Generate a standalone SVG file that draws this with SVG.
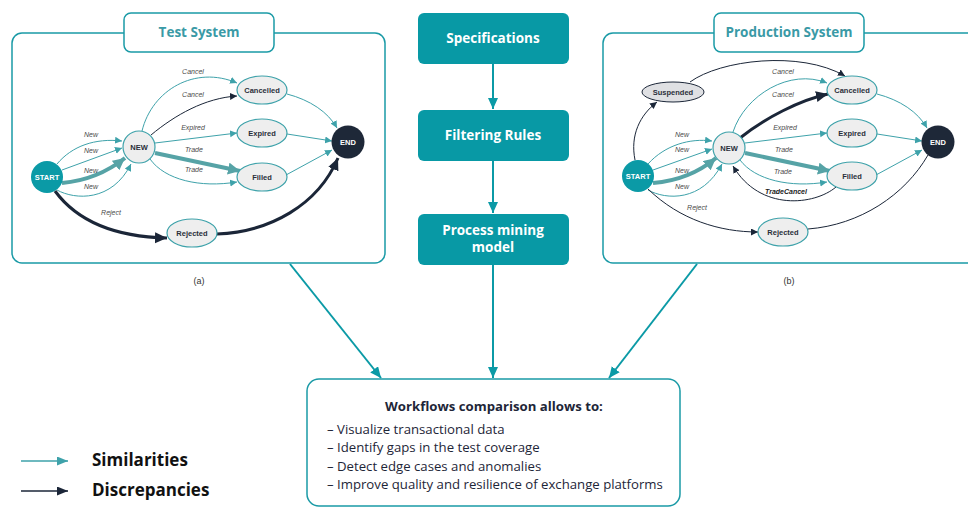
<svg xmlns="http://www.w3.org/2000/svg" width="968" height="507" viewBox="0 0 968 507">
<defs>
<style>
.panel{fill:#fff;stroke:#1a9aa6;stroke-width:1.5}
.ttl{font-family:"Open Sans","Liberation Sans",sans-serif;font-weight:bold;font-size:13.5px;fill:#3a9aa6;text-anchor:middle}
.cbox{fill:#0899a5}
.ctxt{font-family:"Open Sans","Liberation Sans",sans-serif;font-weight:bold;font-size:13.5px;fill:#fff;text-anchor:middle}
.st{fill:#eeeeee;stroke:#3ea2aa;stroke-width:1.2}
.nl{font-family:"Liberation Sans",Arial,sans-serif;font-weight:bold;font-size:7.5px;fill:#2a2f3a;text-anchor:middle}
.nlw{font-family:"Liberation Sans",Arial,sans-serif;font-weight:bold;font-size:7.5px;fill:#fff;text-anchor:middle}
.el{font-family:"Liberation Sans",Arial,sans-serif;font-style:italic;font-size:7px;fill:#4a4a4a;text-anchor:middle}
.elb{font-family:"Liberation Sans",Arial,sans-serif;font-style:italic;font-weight:bold;font-size:7px;fill:#222;text-anchor:middle}
.t{fill:none;stroke:#3ea2aa;stroke-width:1}
.tk{fill:none;stroke:#56a3a6;stroke-width:4}
.n{fill:none;stroke:#1b2638;stroke-width:1}
.nk{fill:none;stroke:#1b2638;stroke-width:3}
.big{fill:none;stroke:#0b9aa6;stroke-width:2}
.cap{font-family:"Liberation Sans",Arial,sans-serif;font-size:9px;fill:#333;text-anchor:middle}
.body{font-family:"Open Sans","Liberation Sans",sans-serif;font-size:13.2px;fill:#1e2638}
.leg{font-family:"Open Sans","Liberation Sans",sans-serif;font-weight:bold;font-size:17px;fill:#111}
</style>
<marker id="aT" markerUnits="userSpaceOnUse" markerWidth="8" markerHeight="8" refX="7" refY="3.5" orient="auto"><path d="M0,0 L7,3.5 L0,7 z" fill="#3ea2aa"/></marker>
<marker id="aTK" markerUnits="userSpaceOnUse" markerWidth="14" markerHeight="14" refX="12" refY="6" orient="auto"><path d="M0,0 L12,6 L0,12 z" fill="#56a3a6"/></marker>
<marker id="aN" markerUnits="userSpaceOnUse" markerWidth="8" markerHeight="8" refX="7" refY="3.5" orient="auto"><path d="M0,0 L7,3.5 L0,7 z" fill="#1b2638"/></marker>
<marker id="aNK" markerUnits="userSpaceOnUse" markerWidth="14" markerHeight="14" refX="12" refY="5.5" orient="auto"><path d="M0,0 L12,5.5 L0,11 z" fill="#1b2638"/></marker>
<marker id="aB" markerUnits="userSpaceOnUse" markerWidth="12" markerHeight="12" refX="11" refY="5" orient="auto"><path d="M0,0 L11,5 L0,10 z" fill="#0b9aa6"/></marker>
<marker id="aLT" markerUnits="userSpaceOnUse" markerWidth="12" markerHeight="10" refX="11" refY="4.5" orient="auto"><path d="M0,0 L11,4.5 L0,9 z" fill="#3ea2aa"/></marker>
<marker id="aLN" markerUnits="userSpaceOnUse" markerWidth="12" markerHeight="10" refX="11" refY="4.5" orient="auto"><path d="M0,0 L11,4.5 L0,9 z" fill="#1b2638"/></marker>
</defs>

<!-- Panels -->
<g id="test-system">
<rect class="panel" x="12" y="33" width="373" height="230" rx="10"/>
<rect class="panel" x="124" y="13" width="150" height="39" rx="7"/>
<text class="ttl" x="199" y="37">Test System</text>
<text class="cap" x="199" y="284">(a)</text>
</g>
<g id="production-system">
<rect class="panel" x="603" y="33" width="380" height="230" rx="10"/>
<rect class="panel" x="714" y="13" width="150" height="39" rx="7"/>
<text class="ttl" x="789" y="37">Production System</text>
<text class="cap" x="789" y="284">(b)</text>
</g>

<!-- Center column -->
<g id="specifications"><rect class="cbox" x="418" y="13" width="151" height="51" rx="6"/><text class="ctxt" x="493" y="43">Specifications</text></g>
<g id="filtering-rules"><rect class="cbox" x="418" y="110" width="151" height="51" rx="6"/><text class="ctxt" x="493" y="140">Filtering Rules</text></g>
<g id="process-mining-model"><rect class="cbox" x="418" y="214" width="151" height="51" rx="6"/><text class="ctxt" x="493" y="235">Process mining</text><text class="ctxt" x="493" y="252">model</text></g>

<g id="comparison">
<rect class="panel" x="307" y="379" width="373" height="127" rx="12"/>
<text class="body" x="494" y="411" text-anchor="middle" font-weight="bold" font-size="13px">Workflows comparison allows to:</text>
<text class="body" x="327" y="434">– Visualize transactional data</text>
<text class="body" x="327" y="452">– Identify gaps in the test coverage</text>
<text class="body" x="327" y="471">– Detect edge cases and anomalies</text>
<text class="body" x="327" y="489">– Improve quality and resilience of exchange platforms</text>
</g>

<g id="legend">
<line x1="21" y1="461" x2="68" y2="461" stroke="#3ea2aa" stroke-width="1.3" marker-end="url(#aLT)"/>
<text class="leg" x="92" y="466">Similarities</text>
<line x1="21" y1="491" x2="68" y2="491" stroke="#1b2638" stroke-width="1.3" marker-end="url(#aLN)"/>
<text class="leg" x="92" y="496">Discrepancies</text>
</g>

<!-- Main connectors -->
<g id="main-connectors">
<path class="big" d="M493,64 L493,109" marker-end="url(#aB)"/>
<path class="big" d="M493,161 L493,213" marker-end="url(#aB)"/>
<path class="big" d="M493,265 L493,378" marker-end="url(#aB)"/>
<path class="big" d="M290,264 L381,378" marker-end="url(#aB)"/>
<path class="big" d="M697,264 L609,378" marker-end="url(#aB)"/>
</g>

<!-- Left graph connectors -->
<g id="test-connectors">
<path class="t" d="M57,164 C72,146 95,138 122,141" marker-end="url(#aT)"/>
<path class="t" d="M62,170 L122,148" marker-end="url(#aT)"/>
<path class="tk" d="M62,183 C85,181 106,173 125,158" marker-end="url(#aTK)"/>
<path class="t" d="M57,190 C75,200 112,202 131,164" marker-end="url(#aT)"/>
<path class="t" d="M142,131 C152,90 195,65 237,83" marker-end="url(#aT)"/>
<path class="n" d="M151,135 C175,115 205,98 237,96" marker-end="url(#aN)"/>
<path class="t" d="M155,143 L237,133" marker-end="url(#aT)"/>
<path class="tk" d="M155,153 L240,171" marker-end="url(#aTK)"/>
<path class="t" d="M150,159 C165,180 200,188 237,182" marker-end="url(#aT)"/>
<path class="t" d="M287,94 C310,100 328,112 337,128" marker-end="url(#aT)"/>
<path class="t" d="M287,134 L332,141" marker-end="url(#aT)"/>
<path class="t" d="M286,175 L332,150" marker-end="url(#aT)"/>
<path class="nk" d="M55,191 C80,225 120,237 167,238" marker-end="url(#aNK)"/>
<path class="nk" d="M217,234 C270,232 318,205 338,158" marker-end="url(#aNK)"/>
<text class="el" x="91" y="137">New</text>
<text class="el" x="91" y="153">New</text>
<text class="el" x="91" y="173">New</text>
<text class="el" x="91" y="189">New</text>
<text class="el" x="193" y="74">Cancel</text>
<text class="el" x="193" y="97">Cancel</text>
<text class="el" x="193" y="130">Expired</text>
<text class="el" x="194" y="152">Trade</text>
<text class="el" x="194" y="172">Trade</text>
<text class="el" x="111" y="215">Reject</text>
</g>

<!-- Left graph nodes -->
<g id="t-start"><circle cx="47" cy="177" r="16" fill="#0b9aa6"/><text class="nlw" x="47" y="180">START</text></g>
<g id="t-new"><circle class="st" cx="139" cy="147" r="16"/><text class="nl" x="139" y="150">NEW</text></g>
<g id="t-cancelled"><ellipse class="st" cx="262" cy="90" rx="25" ry="14"/><text class="nl" x="262" y="93">Cancelled</text></g>
<g id="t-expired"><ellipse class="st" cx="262" cy="133" rx="25" ry="14"/><text class="nl" x="262" y="136">Expired</text></g>
<g id="t-filled"><ellipse class="st" cx="262" cy="177" rx="25" ry="14"/><text class="nl" x="262" y="180">Filled</text></g>
<g id="t-rejected"><ellipse class="st" cx="192" cy="233" rx="25" ry="14"/><text class="nl" x="192" y="236">Rejected</text></g>
<g id="t-end"><circle cx="348" cy="142" r="16.5" fill="#1e2838"/><text class="nlw" x="348" y="145">END</text></g>

<!-- Right graph connectors -->
<g id="prod-connectors">
<path class="n" d="M635,160 C630,135 640,115 657,102" marker-end="url(#aN)"/>
<path class="n" d="M690,82 C720,60 800,50 845,76" marker-end="url(#aN)"/>
<path class="t" d="M648,164 C665,145 690,138 712,141" marker-end="url(#aT)"/>
<path class="t" d="M653,170 L712,149" marker-end="url(#aT)"/>
<path class="tk" d="M653,183 C678,181 698,173 716,158" marker-end="url(#aTK)"/>
<path class="t" d="M648,190 C666,200 702,202 722,164" marker-end="url(#aT)"/>
<path class="t" d="M733,132 C745,95 790,68 827,83" marker-end="url(#aT)"/>
<path class="nk" d="M740,138 C765,118 800,100 828,94" marker-end="url(#aNK)"/>
<path class="t" d="M745,143 L827,133" marker-end="url(#aT)"/>
<path class="tk" d="M745,153 L830,171" marker-end="url(#aTK)"/>
<path class="t" d="M740,160 C755,180 790,188 827,182" marker-end="url(#aT)"/>
<path class="n" d="M836,187 C815,205 760,212 733,166" marker-end="url(#aN)"/>
<path class="t" d="M877,94 C900,100 918,112 927,128" marker-end="url(#aT)"/>
<path class="t" d="M877,134 L922,141" marker-end="url(#aT)"/>
<path class="t" d="M876,175 L922,150" marker-end="url(#aT)"/>
<path class="n" d="M648,189 C680,220 720,232 758,232" marker-end="url(#aN)"/>
<path class="n" d="M808,229 C860,225 905,195 928,155"/>
<text class="el" x="682" y="137">New</text>
<text class="el" x="682" y="152">New</text>
<text class="el" x="682" y="173">New</text>
<text class="el" x="682" y="189">New</text>
<text class="el" x="783" y="74">Cancel</text>
<text class="el" x="783" y="97">Cancel</text>
<text class="el" x="785" y="130">Expired</text>
<text class="el" x="784" y="152">Trade</text>
<text class="el" x="783" y="174">Trade</text>
<text class="elb" x="786" y="194">TradeCancel</text>
<text class="el" x="697" y="210">Reject</text>
</g>

<!-- Right graph nodes -->
<g id="p-suspended"><ellipse cx="673" cy="92" rx="31" ry="10" fill="#dfe0e3" stroke="#1b2638" stroke-width="1"/><text class="nl" x="673" y="95">Suspended</text></g>
<g id="p-start"><circle cx="638" cy="176" r="16" fill="#0b9aa6"/><text class="nlw" x="638" y="179">START</text></g>
<g id="p-new"><circle class="st" cx="729" cy="148" r="16"/><text class="nl" x="729" y="151">NEW</text></g>
<g id="p-cancelled"><ellipse class="st" cx="852" cy="90" rx="25" ry="14"/><text class="nl" x="852" y="93">Cancelled</text></g>
<g id="p-expired"><ellipse class="st" cx="852" cy="133" rx="25" ry="14"/><text class="nl" x="852" y="136">Expired</text></g>
<g id="p-filled"><ellipse class="st" cx="852" cy="176" rx="25" ry="14"/><text class="nl" x="852" y="179">Filled</text></g>
<g id="p-rejected"><ellipse class="st" cx="783" cy="232" rx="25" ry="14"/><text class="nl" x="783" y="235">Rejected</text></g>
<g id="p-end"><circle cx="938" cy="142" r="16.5" fill="#1e2838"/><text class="nlw" x="938" y="145">END</text></g>
</svg>
